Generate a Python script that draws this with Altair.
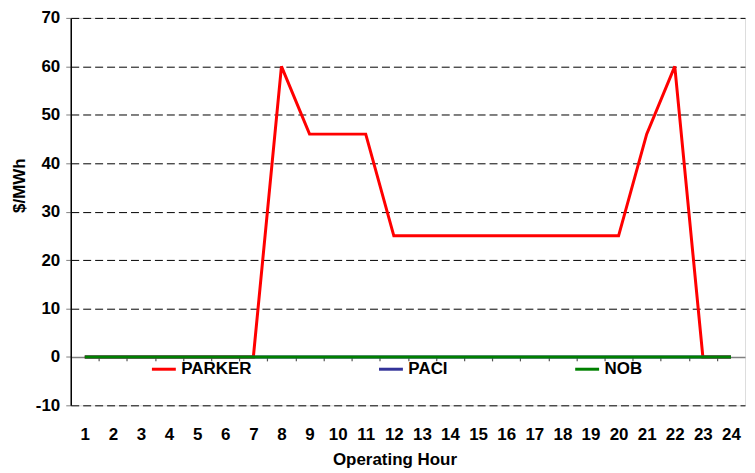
import altair as alt
import pandas as pd

hours = list(range(1, 25))
parker = [0, 0, 0, 0, 0, 0, 0, 60, 46, 46, 46, 25, 25, 25, 25, 25, 25, 25, 25, 25, 46, 60, 0, 0]
paci = [0, 0, 0, 0, 0, 0, 0, 0, 0, 0, 0, 0, 0, 0, 0, 0, 0, 0, 0, 0, 0, 0, 0, 0]
nob = [0, 0, 0, 0, 0, 0, 0, 0, 0, 0, 0, 0, 0, 0, 0, 0, 0, 0, 0, 0, 0, 0, 0, 0]
series_names = ["PARKER", "PACI", "NOB"]
series_colors = ["#FF0000", "#333399", "#008000"]
y_ticks = [-10, 0, 10, 20, 30, 40, 50, 60, 70]
boundaries = [h + 0.5 for h in hours[:-1]]

df = pd.DataFrame({
    "hour": hours * 3,
    "value": parker + paci + nob,
    "series": ["PARKER"] * 24 + ["PACI"] * 24 + ["NOB"] * 24,
})

W, H = 677, 389
FONT = "Liberation Sans"
FS = 17

color = alt.Color(
    "series:N",
    scale=alt.Scale(domain=series_names, range=series_colors),
    sort=series_names,
    legend=alt.Legend(
        title=None, orient="none", legendX=80, legendY=339,
        direction="horizontal", columnPadding=121,
        symbolType="stroke", symbolSize=576, symbolStrokeWidth=3,
        labelFont=FONT, labelFontSize=FS, labelFontWeight="bold",
        labelColor="black", labelOffset=4,
    ),
)

y_axis = alt.Axis(
    values=y_ticks, grid=True, gridDash=[8, 4],
    gridColor=alt.condition("datum.value == 0", alt.value("transparent"), alt.value("black")),
    domainColor="black", domainWidth=1.5, tickColor="#808080", tickSize=5,
    labelFont=FONT, labelFontSize=FS, labelFontWeight="bold", labelColor="black",
    labelPadding=6, labelExpr="'' + datum.value",
    title="$/MWh", titleFont=FONT, titleFontSize=FS, titleFontWeight="bold",
    titleColor="black", titleX=-51, titleY=168, titleAlign="center",
    titleBaseline="middle",
)
y = alt.Y("value:Q", scale=alt.Scale(domain=[-10, 70], nice=False, zero=False), axis=y_axis)

x_scale = alt.Scale(domain=[0.5, 24.5], nice=False, zero=False)

axis_labels = alt.Axis(
    orient="bottom",
    values=hours, grid=False, domain=False, ticks=False, tickSize=0,
    labelFont=FONT, labelFontSize=FS, labelFontWeight="bold", labelColor="black",
    labelBaseline="middle", labelPadding=29, labelFlush=False,
    title="Operating Hour", titleFont=FONT, titleFontSize=FS, titleFontWeight="bold",
    titleColor="black", titleX=325, titleY=54, titleAlign="center", titleBaseline="middle",
)
axis_zero = alt.Axis(
    orient="bottom",
    values=boundaries, grid=False, labels=False, title="",
    domain=True, domainColor="#808080", domainWidth=1.5,
    ticks=True, tickColor="#555555", tickSize=4, tickWidth=1.2,
    offset=-H * 10 / 80,
)

base = alt.Chart(df)

l_parker = base.transform_filter(alt.datum.series == "PARKER").mark_line(strokeWidth=3).encode(
    x=alt.X("hour:Q", scale=x_scale, axis=axis_labels), y=y, color=color)
l_paci = base.transform_filter(alt.datum.series == "PACI").mark_line(strokeWidth=3).encode(
    x=alt.X("hour:Q", scale=x_scale, axis=axis_zero), y=y, color=color)
l_nob = base.transform_filter(alt.datum.series == "NOB").mark_line(strokeWidth=3).encode(
    x=alt.X("hour:Q", scale=x_scale, axis=None), y=y, color=color)

chart = alt.layer(l_parker, l_paci, l_nob).resolve_axis(x="independent").properties(
    width=W, height=H, autosize="none",
    padding={"left": 63, "top": 9, "right": 2, "bottom": 62},
).configure_view(stroke="black", strokeWidth=1.2).configure(background="white")

chart.save("out.html", embed_options={"renderer": "svg", "actions": False})
